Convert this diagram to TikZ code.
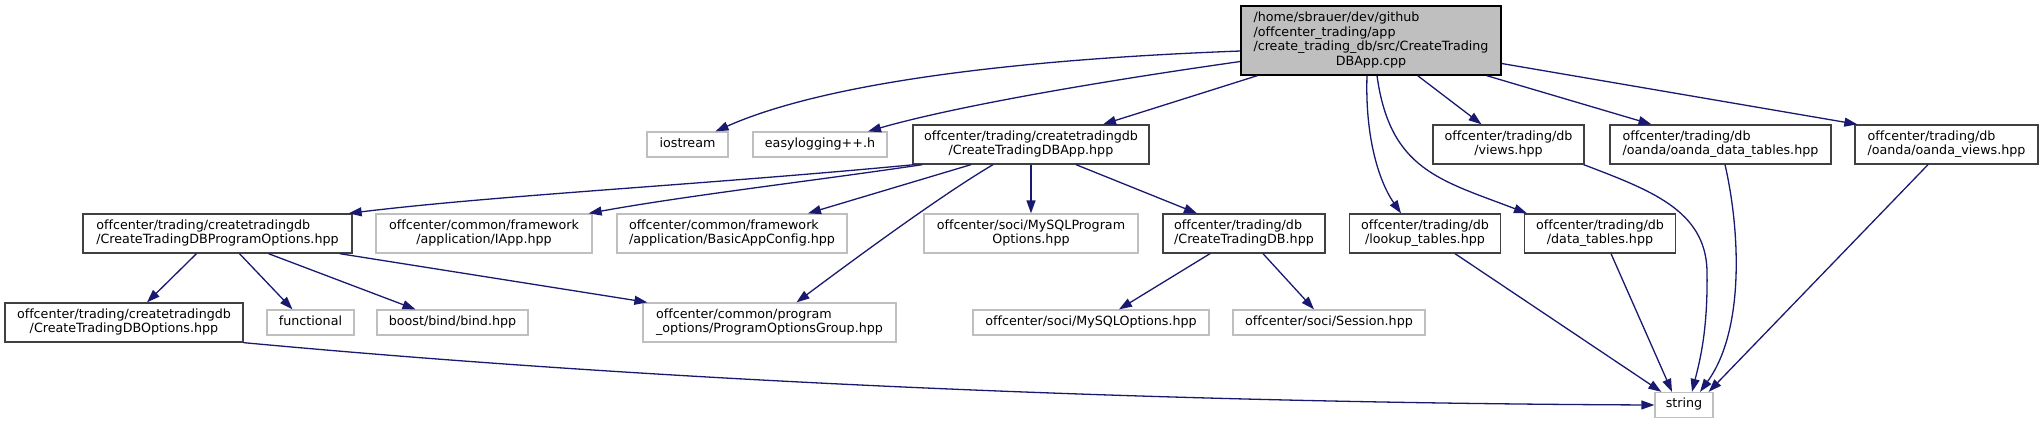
\documentclass[tikz,border=0pt]{standalone}
\usepackage{fontspec}
\setmainfont{DejaVu Sans}[Ligatures=CommonOff]
\usetikzlibrary{arrows.meta}
\definecolor{edgeblue}{HTML}{191970}
\definecolor{greyl}{HTML}{BFBFBF}
\definecolor{greyd}{HTML}{404040}
\newcommand\twol[2]{\begin{tabular}{@{}l@{}}#1\\\multicolumn{1}{@{}c@{}}{#2}\end{tabular}}
\newcommand\onel[1]{\begin{tabular}{@{}c@{}}#1\end{tabular}}
\begin{document}
\begin{tikzpicture}[x=1pt,y=-1pt,
  base/.style={rectangle, inner sep=0pt, line width=1.3pt, fill=white, text=black, font=\fontsize{12.7}{14.6}\selectfont},
  gbox/.style={base, draw=greyl},
  dbox/.style={base, draw=greyd},
  rbox/.style={base, draw=black, fill=greyl},
  conn/.style={draw=edgeblue, line width=1.3pt, -{Triangle[length=13pt,width=9pt]}}]
\useasboundingbox (0,0) rectangle (2043,424);
% row 1
\node[rbox, minimum width=260pt, minimum height=69pt] (root) at (1371,40.5)
  {\begin{tabular}{@{}l@{}}/home/sbrauer/dev/github\\/offcenter\_trading/app\\/create\_trading\_db/src/CreateTrading\\\multicolumn{1}{@{}c@{}}{DBApp.cpp}\end{tabular}};
% row 2
\node[gbox, minimum width=81pt, minimum height=25pt] (iostream) at (687.5,144.5) {\onel{iostream}};
\node[gbox, minimum width=134pt, minimum height=25pt] (easylog) at (820,144.5) {\onel{easylogging++.h}};
\node[dbox, minimum width=236pt, minimum height=39pt] (app) at (1031,144.5) {\twol{offcenter/trading/createtradingdb}{/CreateTradingDBApp.hpp}};
\node[dbox, minimum width=151pt, minimum height=39pt] (views) at (1508.5,144.5) {\twol{offcenter/trading/db}{/views.hpp}};
\node[dbox, minimum width=221pt, minimum height=39pt] (oandadata) at (1720.5,144.5) {\twol{offcenter/trading/db}{/oanda/oanda\_data\_tables.hpp}};
\node[dbox, minimum width=183pt, minimum height=39pt] (oandaviews) at (1946.5,144.5) {\twol{offcenter/trading/db}{/oanda/oanda\_views.hpp}};
% row 3
\node[dbox, minimum width=269pt, minimum height=39pt] (progopts) at (217.5,233.5) {\twol{offcenter/trading/createtradingdb}{/CreateTradingDBProgramOptions.hpp}};
\node[gbox, minimum width=216pt, minimum height=39pt] (iapp) at (484,233.5) {\twol{offcenter/common/framework}{/application/IApp.hpp}};
\node[gbox, minimum width=230pt, minimum height=39pt] (basic) at (732,233.5) {\twol{offcenter/common/framework}{/application/BasicAppConfig.hpp}};
\node[gbox, minimum width=214pt, minimum height=39pt] (mysqlprog) at (1031,233.5) {\twol{offcenter/soci/MySQLProgram}{Options.hpp}};
\node[dbox, minimum width=162pt, minimum height=39pt] (ctdb) at (1244,233.5) {\twol{offcenter/trading/db}{/CreateTradingDB.hpp}};
\node[dbox, minimum width=151pt, minimum height=39pt] (lookup) at (1425,233.5) {\twol{offcenter/trading/db}{/lookup\_tables.hpp}};
\node[dbox, minimum width=151pt, minimum height=39pt] (datatables) at (1600,233.5) {\twol{offcenter/trading/db}{/data\_tables.hpp}};
% row 4
\node[dbox, minimum width=238pt, minimum height=39pt] (dboptions) at (124,322.5) {\twol{offcenter/trading/createtradingdb}{/CreateTradingDBOptions.hpp}};
\node[gbox, minimum width=87pt, minimum height=25pt] (functional) at (310.5,322.5) {\onel{functional}};
\node[gbox, minimum width=151pt, minimum height=25pt] (bind) at (452.5,322.5) {\onel{boost/bind/bind.hpp}};
\node[gbox, minimum width=253pt, minimum height=39pt] (pog) at (769.5,322.5) {\twol{offcenter/common/program}{\_options/ProgramOptionsGroup.hpp}};
\node[gbox, minimum width=236pt, minimum height=25pt] (mysqlopts) at (1091,322.5) {\onel{offcenter/soci/MySQLOptions.hpp}};
\node[gbox, minimum width=192pt, minimum height=25pt] (session) at (1329,322.5) {\onel{offcenter/soci/Session.hpp}};
% row 5
\node[gbox, minimum width=58pt, minimum height=25pt] (string) at (1684,405) {\onel{string}};
% edges from root
\draw[conn] ([yshift=-10.5pt]root.west) .. controls (1000,60) and (820,85) .. ([xshift=28pt]iostream.north);
\draw[conn] ([yshift=-21pt]root.west) .. controls (1110,80) and (960,105) .. ([xshift=48pt]easylog.north);
\draw[conn] ([xshift=17pt]root.south west) -- ([xshift=72pt]app.north);
\draw[conn] ([xshift=-4pt]root.south) .. controls (1365,135) and (1378,180) .. ([xshift=-24pt]lookup.north);
\draw[conn] ([xshift=6pt]root.south) .. controls (1390,170) and (1440,180) .. ([xshift=-73pt]datatables.north);
\draw[conn] ([xshift=-84pt]root.south east) -- ([xshift=-27pt]views.north);
\draw[conn] ([xshift=-15pt]root.south east) -- ([xshift=-69pt]oandadata.north);
\draw[conn] ([yshift=-23pt]root.east) -- ([xshift=3pt]oandaviews.north west);
% edges from app
\draw[conn] ([xshift=2pt]app.south west) .. controls (700,185) and (500,195) .. ([xshift=-4pt]progopts.north east);
\draw[conn] ([xshift=10pt]app.south west) .. controls (820,180) and (690,195) .. ([xshift=-4pt]iapp.north east);
\draw[conn] ([xshift=-60pt]app.south) -- ([xshift=76pt]basic.north);
\draw[conn] ([xshift=-38pt]app.south) .. controls (950,190) and (880,240) .. ([xshift=27pt]pog.north);
\draw[conn] (app.south) -- (mysqlprog.north);
\draw[conn] ([xshift=45pt]app.south) -- ([xshift=-47pt]ctdb.north);
% edges from ctdb
\draw[conn] ([xshift=-34pt]ctdb.south) -- ([xshift=28pt]mysqlopts.north);
\draw[conn] ([xshift=19pt]ctdb.south) -- ([xshift=-15pt]session.north);
% edges from progopts
\draw[conn] ([xshift=-21pt]progopts.south) -- ([xshift=23pt]dboptions.north);
\draw[conn] ([xshift=22pt]progopts.south) -- ([xshift=-18pt]functional.north);
\draw[conn] ([xshift=51pt]progopts.south) -- ([xshift=-37pt]bind.north);
\draw[conn] ([xshift=-13pt]progopts.south east) -- ([xshift=5pt]pog.north west);
% edges to string
\draw[conn] (dboptions.south east) .. controls (700,385) and (1200,403) .. (string.west);
\draw[conn] ([xshift=30pt]lookup.south) -- ([xshift=7pt]string.north west);
\draw[conn] ([xshift=11pt]datatables.south) -- ([xshift=-12pt]string.north);
\draw[conn] ([xshift=-1pt]views.south east) .. controls (1650,190) and (1705,210) .. (1707,270) .. controls (1708,330) and (1700,360) .. ([xshift=8pt]string.north);
\draw[conn] ([xshift=4.5pt]oandadata.south) .. controls (1740,230) and (1745,330) .. ([xshift=16pt]string.north);
\draw[conn] ([xshift=-18.5pt]oandaviews.south) -- ([xshift=-5pt]string.north east);
\end{tikzpicture}
\end{document}
